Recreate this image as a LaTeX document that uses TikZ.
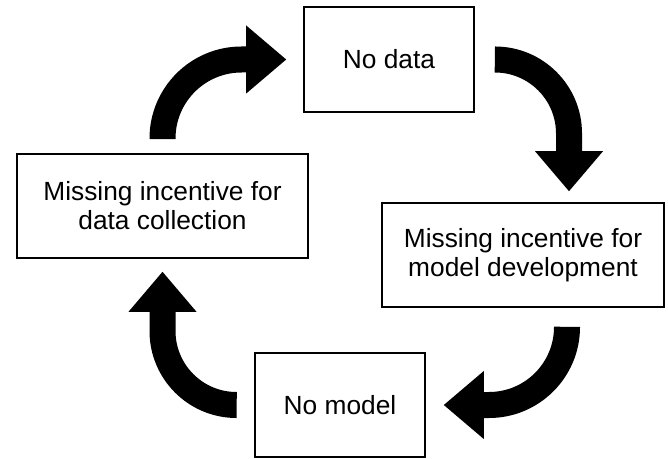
\documentclass[tikz,border=0pt]{standalone}
\usepackage{fontspec}
\setmainfont{Liberation Sans}
\usetikzlibrary{arrows.meta}

\tikzset{
  box/.style={draw, line width=1.6pt, inner sep=0pt, align=center,
    font=\fontsize{26.3}{29}\selectfont},
  cyc/.style={line width=26pt, -{Triangle[length=40pt,width=68pt,line width=0pt]}},
}

\begin{document}
\begin{tikzpicture}[x=1pt,y=1pt]
\useasboundingbox (0,0) rectangle (668,458);
% boxes
\node[box, minimum width=170pt, minimum height=105pt] (nodata) at (389,398.5) {No data};
\node[box, minimum width=291pt, minimum height=104pt] (dcoll) at (162.5,252) {Missing incentive for\\data collection};
\node[box, minimum width=282pt, minimum height=104pt] (mdev) at (523,203) {Missing incentive for\\model development};
\node[box, minimum width=170pt, minimum height=104pt] (nomodel) at (340,53) {No model};
% cycle arrows
\draw[cyc, rounded corners=79pt] ([yshift=14pt]dcoll.north) |- ([xshift=-17pt]nodata.west);
\draw[cyc, rounded corners=74pt] ([xshift=21pt]nodata.east) -| ([xshift=46pt,yshift=11pt]mdev.north);
\draw[cyc, rounded corners=78pt] ([xshift=44pt,yshift=-20pt]mdev.south) |- ([xshift=18pt]nomodel.east);
\draw[cyc, rounded corners=74pt] ([xshift=-18pt]nomodel.west) -| ([yshift=-13pt]dcoll.south);
\end{tikzpicture}
\end{document}
